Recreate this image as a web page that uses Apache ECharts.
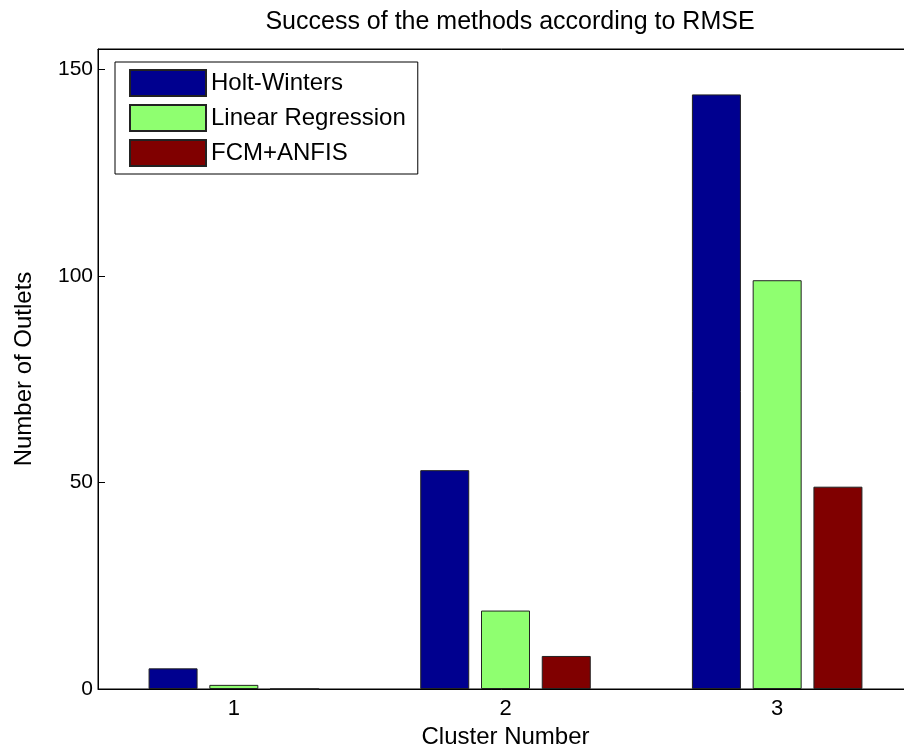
<!DOCTYPE html>
<html><head><meta charset="utf-8">
<script src="https://cdn.jsdelivr.net/npm/echarts@6/dist/echarts.min.js"></script>
<style>html,body{margin:0;padding:0;background:#fff;overflow:hidden}#c{width:904px;height:755px}</style>
</head><body><div id="c"></div>
<script>
const categories = ['1', '2', '3'];
const holtWinters = [5, 53, 144];
const linearRegression = [1, 19, 99];
const fcmAnfis = [0, 8, 49];
const yTicks = [0, 50, 100, 150];

const font = 'Liberation Sans, Arial, Helvetica, sans-serif';
const chart = echarts.init(document.getElementById('c'));
function bar(name, data, color) {
  return {
    name, type: 'bar', data, barWidth: 49, barGap: '24%', xAxisIndex: 0,
    itemStyle: { color, borderColor: '#222', borderWidth: 1 }
  };
}
chart.setOption({
  animation: false,
  backgroundColor: '#fff',
  title: {
    text: 'Success of the methods according to RMSE',
    left: 505, top: 5, textAlign: 'center',
    textStyle: { fontFamily: font, fontSize: 25, fontWeight: 'normal', color: '#000' }
  },
  legend: {
    orient: 'vertical', left: 115, top: 62,
    padding: [7, 12, 7, 14], itemGap: 7,
    itemWidth: 76, itemHeight: 26,
    borderColor: '#000', borderWidth: 1, backgroundColor: '#fff',
    icon: 'rect',
    textStyle: { fontFamily: font, fontSize: 24, color: '#000' },
    data: ['Holt-Winters', 'Linear Regression', 'FCM+ANFIS']
  },
  grid: {
    left: 98, top: 49, width: 815, height: 640,
    outerBoundsMode: 'none', containLabel: false,
    show: true, borderColor: '#000', borderWidth: 1
  },
  xAxis: [{
    type: 'category', data: categories, position: 'bottom',
    name: 'Cluster Number', nameLocation: 'middle', nameGap: 34,
    nameTextStyle: { fontFamily: font, fontSize: 24, color: '#000' },
    axisLine: { lineStyle: { color: '#000' } },
    axisTick: { inside: true, length: 7, alignWithLabel: true, lineStyle: { color: '#000' } },
    axisLabel: { fontFamily: font, fontSize: 22, color: '#000', margin: 9 }
  }, {
    type: 'category', data: categories, position: 'top',
    axisLine: { lineStyle: { color: '#000' } },
    axisTick: { inside: true, length: 7, alignWithLabel: true, lineStyle: { color: '#000' } },
    axisLabel: { show: false }
  }],
  yAxis: {
    type: 'value', min: 0, max: 155, interval: 50,
    name: 'Number of Outlets', nameLocation: 'middle', nameGap: 62,
    nameTextStyle: { fontFamily: font, fontSize: 24, color: '#000' },
    axisLine: { show: true, lineStyle: { color: '#000' } },
    axisTick: { show: true, inside: true, length: 7, lineStyle: { color: '#000' } },
    splitLine: { show: false },
    showMaxLabel: false,
    axisLabel: {
      fontFamily: font, fontSize: 21, color: '#000', margin: 5,
      formatter: v => yTicks.includes(v) ? String(v) : ''
    }
  },
  series: [
    bar('Holt-Winters', holtWinters, '#00008F'),
    bar('Linear Regression', linearRegression, '#8FFF70'),
    bar('FCM+ANFIS', fcmAnfis, '#800000')
  ]
});
</script></body></html>
